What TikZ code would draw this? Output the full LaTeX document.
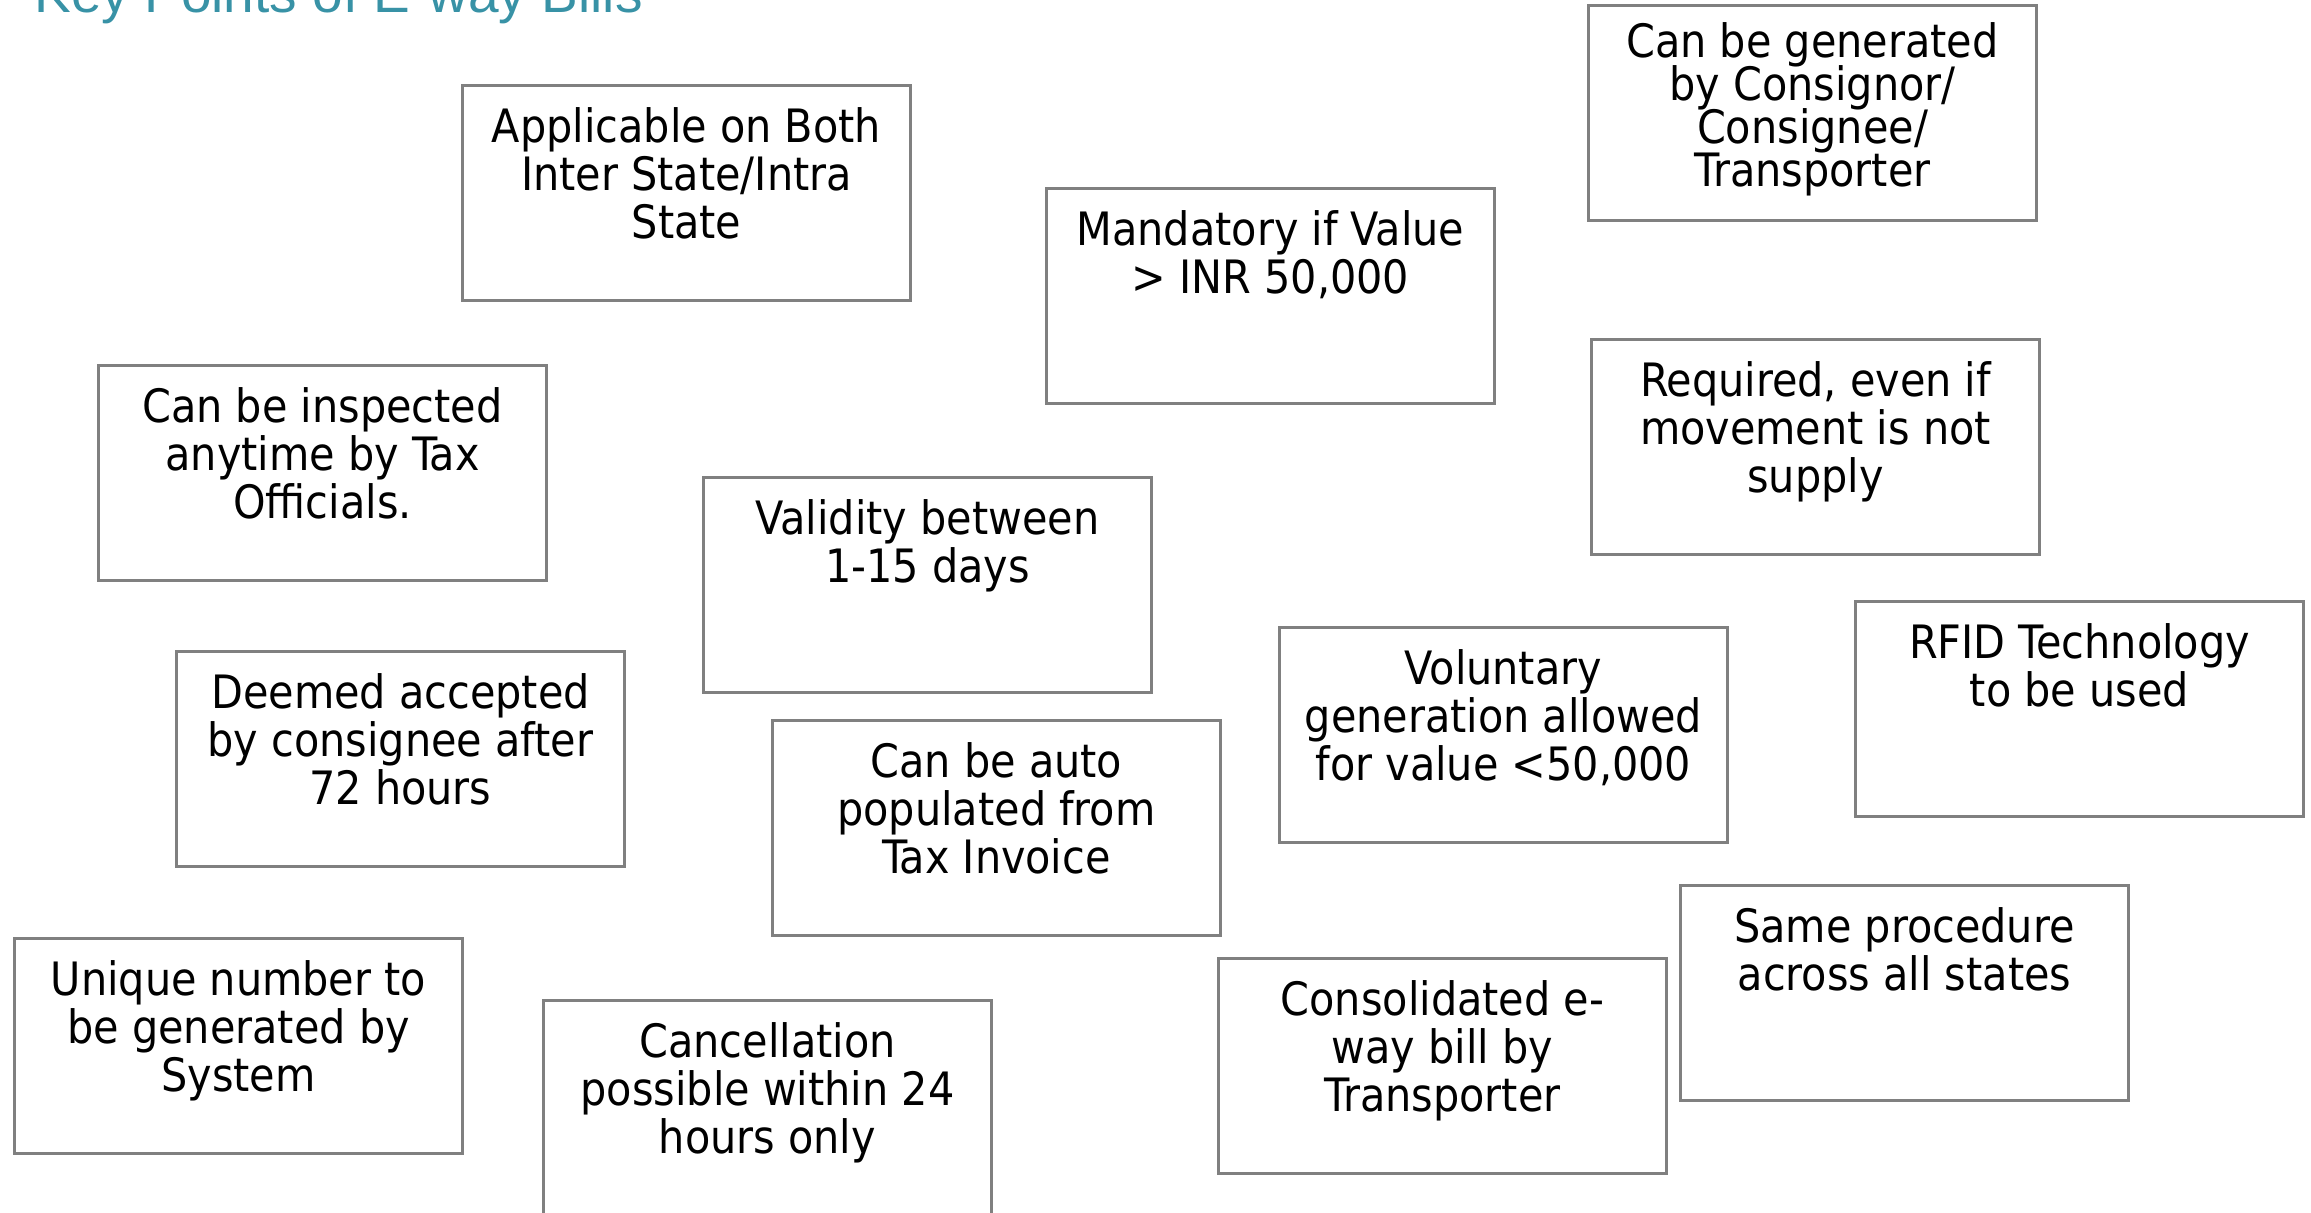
\documentclass[tikz,border=0pt]{standalone}
\usepackage{fontspec}
\setmainfont{DejaVu Sans Condensed}
\newfontfamily\headfont{Liberation Sans}
\definecolor{boxgray}{RGB}{128,128,128}
\definecolor{headteal}{RGB}{56,146,166}
% text block of one key point, set from the top of its box
\newcommand{\kp}[2][24pt]{\parbox[t][107.5pt][t]{224pt}{\centering\fontsize{23pt}{#1}\selectfont\lineskiplimit=-50pt\rule{0pt}{\dimexpr#1+4.5pt}#2}}

\begin{document}
\begin{tikzpicture}[
  x=0.5pt, y=-0.5pt,
  box/.style={draw=boxgray, line width=1.5pt, anchor=north west, inner sep=0pt, fill=white},
  head/.style={anchor=base west, inner sep=0pt, text=headteal, font=\headfont\fontsize{27.5pt}{33pt}\selectfont}
]
\useasboundingbox (0,0) rectangle (2311,1213);
\node[head] (head) at (34,13) {Key Points of E-way Bills};
\node[box] (applic) at (461,84) {\kp{Applicable on Both\\ Inter State/Intra\\ State}};
\node[box] (genby) at (1587,4) {\kp[21.5pt]{Can be generated\\ by Consignor/\\ Consignee/\\ Transporter}};
\node[box] (mandat) at (1045,187) {\kp{Mandatory if Value\\ > INR 50,000}};
\node[box] (inspect) at (97,364) {\kp{Can be inspected\\ anytime by Tax\\ Officials.}};
\node[box] (nosupply) at (1590,338) {\kp{Required, even if\\ movement is not\\ supply}};
\node[box] (valid) at (702,476) {\kp{Validity between\\ 1-15 days}};
\node[box] (rfid) at (1854,600) {\kp{RFID Technology\\ to be used}};
\node[box] (deemed) at (175,650) {\kp{Deemed accepted\\ by consignee after\\ 72 hours}};
\node[box] (volunt) at (1278,626) {\kp{Voluntary\\ generation allowed\\ for value <50,000}};
\node[box] (autopop) at (771,719) {\kp{Can be auto\\ populated from\\ Tax Invoice}};
\node[box] (sameproc) at (1679,884) {\kp{Same procedure\\ across all states}};
\node[box] (unique) at (13,937) {\kp{Unique number to\\ be generated by\\ System}};
\node[box] (consol) at (1217,957) {\kp{Consolidated e-\\ way bill by\\ Transporter}};
\node[box] (cancel) at (542,999) {\kp{Cancellation\\ possible within 24\\ hours only}};
\end{tikzpicture}
\end{document}
